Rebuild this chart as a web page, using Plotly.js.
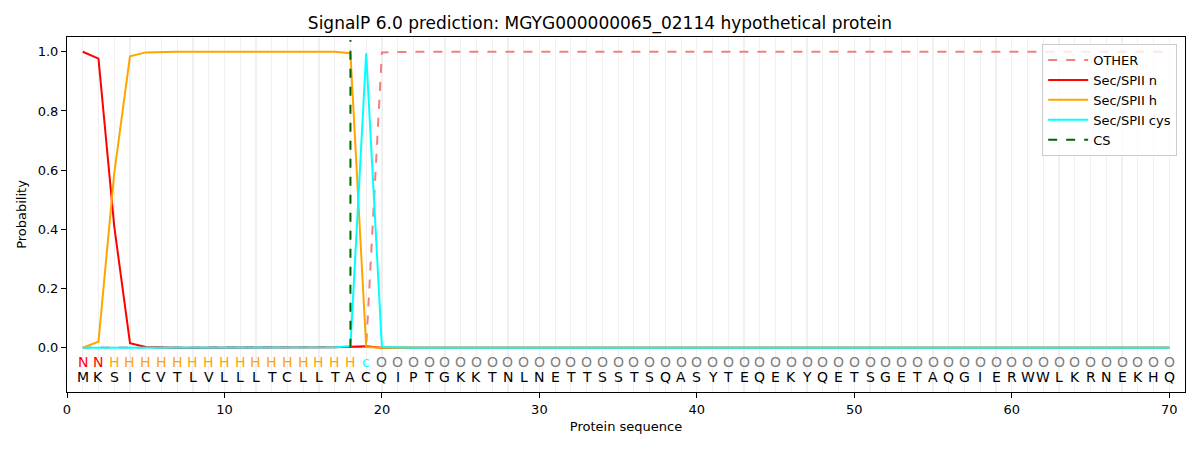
<!DOCTYPE html>
<html>
<head>
<meta charset="utf-8">
<script src="https://cdn.plot.ly/plotly-3.0.1.min.js"></script>
<style>html,body{margin:0;padding:0;background:#fff}#chart{width:1200px;height:450px}</style>
</head>
<body>
<div id="chart"></div>
<script>
const sequence = "MKSICVTLVLLLTCLLTACQIPTGKKTNLNETTSSTSQASYTEQEKYQETSGETAQGIERWWLKRNEKHQ".split("");
const labels = ("NN" + "H".repeat(16) + "c" + "O".repeat(51)).split("");
const positions = sequence.map((_, i) => i + 1);

const otherProb = [0,0,0,0,0,0,0,0,0,0,0,0,0,0,0,0,0,0,0.002,0.998,1,1,1,1,1,1,1,1,1,1,1,1,1,1,1,1,1,1,1,1,1,1,1,1,1,1,1,1,1,1,1,1,1,1,1,1,1,1,1,1,1,1,1,1,1,1,1,1,1,1];
const nProb = [1.0,0.977,0.41,0.015,0.002,0,0,0,0,0,0,0,0,0,0,0,0.001,0.003,0.005,0,0,0,0,0,0,0,0,0,0,0,0,0,0,0,0,0,0,0,0,0,0,0,0,0,0,0,0,0,0,0,0,0,0,0,0,0,0,0,0,0,0,0,0,0,0,0,0,0,0,0];
const hProb = [0,0.02,0.59,0.985,0.998,1,1,1,1,1,1,1,1,1,1,1,1,0.995,0.002,0,0,0,0,0,0,0,0,0,0,0,0,0,0,0,0,0,0,0,0,0,0,0,0,0,0,0,0,0,0,0,0,0,0,0,0,0,0,0,0,0,0,0,0,0,0,0,0,0,0,0];
const cysProb = [0,0,0,0,0,0,0,0,0,0,0,0,0,0,0,0,0.001,0.005,0.995,0.002,0,0,0,0,0,0,0,0,0,0,0,0,0,0,0,0,0,0,0,0,0,0,0,0,0,0,0,0,0,0,0,0,0,0,0,0,0,0,0,0,0,0,0,0,0,0,0,0,0,0];
const otherClassProb = [0,0,0,0,0,0,0,0,0,0,0,0,0,0,0,0,0,0,0,0,0,0,0,0,0,0,0,0,0,0,0,0,0,0,0,0,0,0,0,0,0,0,0,0,0,0,0,0,0,0,0,0,0,0,0,0,0,0,0,0,0,0,0,0,0,0,0,0,0,0];
const csPos = [18];
const csSpan = [0, 1.04];

const labelColor = {N: "red", H: "orange", c: "cyan", O: "gray"};
const font = "DejaVu Sans, sans-serif";

const traces = [
  {x: positions.slice(19), y: otherClassProb.slice(19), mode: "lines", line: {color: "#40e0d0", width: 2}, showlegend: false, hoverinfo: "skip"},
  {x: positions, y: otherProb, name: "OTHER", mode: "lines", line: {color: "lightcoral", width: 2, dash: "dash"}},
  {x: positions, y: nProb, name: "Sec/SPII n", mode: "lines", line: {color: "red", width: 2}},
  {x: positions, y: hProb, name: "Sec/SPII h", mode: "lines", line: {color: "orange", width: 2}},
  {x: positions, y: cysProb, name: "Sec/SPII cys", mode: "lines", line: {color: "cyan", width: 2}},
  {x: [csPos[0], csPos[0]], y: csSpan, name: "CS", mode: "lines", line: {color: "darkgreen", width: 2, dash: "dash"}}
];

const annotations = [];
positions.forEach((p, i) => {
  annotations.push({x: p, y: -0.048, xref: "x", yref: "y", text: labels[i], showarrow: false,
    font: {family: font, size: 14, color: labelColor[labels[i]]}});
  annotations.push({x: p, y: -0.1, xref: "x", yref: "y", text: sequence[i], showarrow: false,
    font: {family: font, size: 14, color: "black"}});
});

const layout = {
  width: 1200, height: 450,
  margin: {l: 67, r: 15, t: 37, b: 58},
  paper_bgcolor: "white", plot_bgcolor: "white",
  font: {family: font, size: 13, color: "black"},
  title: {text: "SignalP 6.0 prediction: MGYG000000065_02114 hypothetical protein", font: {family: font, size: 17}, x: 0.5, xanchor: "center", y: 0.949, yanchor: "middle"},
  xaxis: {range: [0, 71], tickmode: "array", tickvals: [0,10,20,30,40,50,60,70], ticks: "outside", ticklen: 5, tickcolor: "black",
    showgrid: true, gridcolor: "#f0f0f0", gridwidth: 1.2, zeroline: false, showline: true, linecolor: "black", linewidth: 1, mirror: true,
    minor: {dtick: 1, tick0: 0, showgrid: true, gridcolor: "#f0f0f0", gridwidth: 1.2, ticks: ""},
    title: {text: "Protein sequence", font: {family: font, size: 13}, standoff: 6}, tickfont: {size: 13}},
  yaxis: {range: [-0.15, 1.05], tickmode: "array", tickvals: [0,0.2,0.4,0.6,0.8,1.0], ticktext: ["0.0","0.2","0.4","0.6","0.8","1.0"],
    ticks: "outside", ticklen: 5, tickcolor: "black", showgrid: false, zeroline: false, showline: true, linecolor: "black", linewidth: 1, mirror: true,
    title: {text: "Probability", font: {family: font, size: 13}, standoff: 8}, tickfont: {size: 13}},
  legend: {x: 0.993, y: 0.98, xanchor: "right", yanchor: "top", bgcolor: "rgba(255,255,255,0.8)", bordercolor: "#cccccc", borderwidth: 1,
    font: {family: font, size: 13}, tracegroupgap: 0, itemwidth: 40},
  annotations: annotations,
  showlegend: true
};

Plotly.newPlot("chart", traces, layout, {displayModeBar: false, staticPlot: true});
</script>
</body>
</html>
